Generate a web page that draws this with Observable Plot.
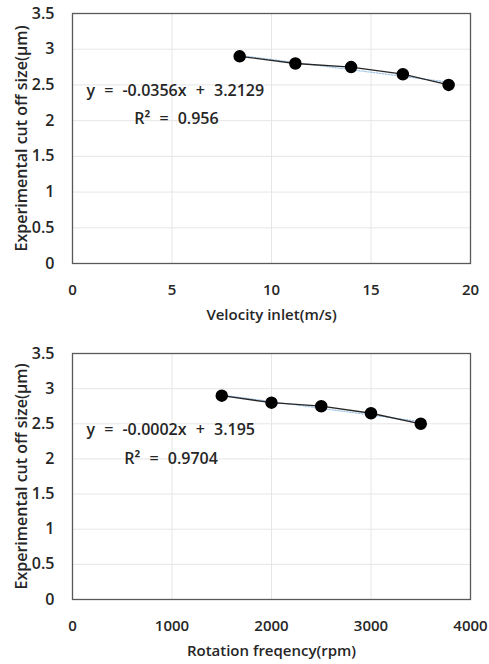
<!DOCTYPE html>
<html>
<head>
<meta charset="utf-8">
<script src="https://cdn.jsdelivr.net/npm/d3@7"></script>
<script src="https://cdn.jsdelivr.net/npm/@observablehq/plot@0.6"></script>
<style>
  html, body { margin: 0; padding: 0; background: #fff; }
  #c { width: 489px; }
  #c svg { display: block; }
  #c g[aria-label="text"] text { word-spacing: 5px; }
</style>
</head>
<body>
<div id="c"></div>
<script>
// Chart 1: velocity inlet
const velocity = [8.4, 11.2, 14.0, 16.6, 18.9];
const cutoff1 = [2.9, 2.8, 2.75, 2.65, 2.5];
const xTicks1 = [0, 5, 10, 15, 20];
const eq1 = ["y = -0.0356x + 3.2129", "R\u00B2 = 0.956"];
const eq1x = [0.7, 3.1];
const eq1y = [2.42, 2.02];

// Chart 2: rotation frequency
const rotation = [1500, 2000, 2500, 3000, 3500];
const cutoff2 = [2.9, 2.8, 2.75, 2.65, 2.5];
const xTicks2 = [0, 1000, 2000, 3000, 4000];
const eq2 = ["y = -0.0002x + 3.195", "R\u00B2 = 0.9704"];
const eq2x = [140, 520];
const eq2y = [2.42, 2.0];

const yTicks = [0, 0.5, 1, 1.5, 2, 2.5, 3, 3.5];
const yLabel = "Experimental cut off size(\u03BCm)";

function chart({xs, ys, xDomain, xTicks, xLabel, eq, eqx, eqy, height, marginTop, marginBottom}) {
  const data = xs.map((x, i) => ({x, y: ys[i]}));
  const ann = eq.map((t, i) => ({t, x: eqx[i], y: eqy[i]}));
  return Plot.plot({
    width: 489,
    height,
    marginTop,
    marginBottom,
    marginLeft: 72,
    marginRight: 19,
    style: {fontFamily: "'Open Sans', sans-serif", fontSize: "16px", fontWeight: 600, color: "#262626", background: "#fff"},
    x: {domain: xDomain},
    y: {domain: [0, 3.5]},
    marks: [
      Plot.gridX(xTicks, {stroke: "#e6e6e6", strokeOpacity: 1, strokeWidth: 1}),
      Plot.gridY(yTicks, {stroke: "#e6e6e6", strokeOpacity: 1, strokeWidth: 1}),
      Plot.frame({stroke: "#595959", strokeWidth: 1.3}),
      Plot.axisX({ticks: xTicks, tickSize: 0, tickPadding: 21, tickFormat: d => String(d),
        label: xLabel, labelAnchor: "center", labelOffset: 56, labelArrow: "none", fontSize: 15}),
      Plot.axisY({ticks: yTicks, tickSize: 0, tickPadding: 18, tickFormat: d => String(d),
        label: yLabel, labelAnchor: "center", labelOffset: 57, labelArrow: "none", fontSize: 16}),
      Plot.linearRegressionY(data, {x: "x", y: "y", ci: 0, stroke: "#9dc3e6", strokeWidth: 1.2, strokeDasharray: "1.5,1.5"}),
      Plot.line(data, {x: "x", y: "y", stroke: "#262626", strokeWidth: 1.3}),
      Plot.dot(data, {x: "x", y: "y", r: 5.5, fill: "#000", stroke: "#000"}),
      Plot.text(ann, {x: "x", y: "y", text: "t", textAnchor: "start", fontSize: 16, fill: "#262626"})
    ]
  });
}

const c = document.getElementById("c");
c.append(chart({xs: velocity, ys: cutoff1, xDomain: [0, 20], xTicks: xTicks1, xLabel: "Velocity inlet(m/s)",
  eq: eq1, eqx: eq1x, eqy: eq1y, height: 330, marginTop: 13, marginBottom: 67}));
c.append(chart({xs: rotation, ys: cutoff2, xDomain: [0, 4000], xTicks: xTicks2, xLabel: "Rotation freqency(rpm)",
  eq: eq2, eqx: eq2x, eqy: eq2y, height: 334, marginTop: 23, marginBottom: 65}));
</script>
</body>
</html>
